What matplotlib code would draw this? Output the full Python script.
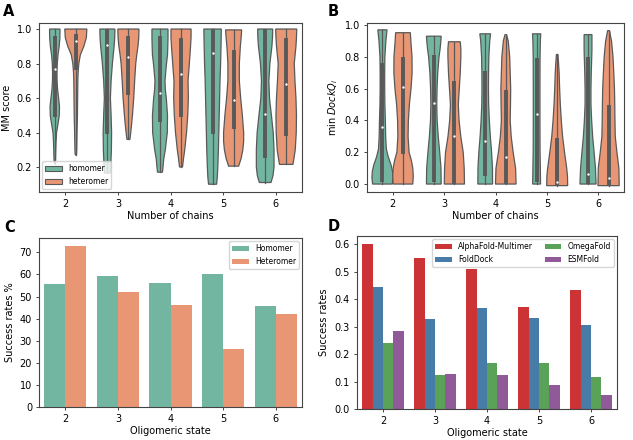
import colorsys
import numpy as np
import matplotlib
matplotlib.use("Agg")
import matplotlib.pyplot as plt
from matplotlib.patches import Patch

# ---------------- data ----------------
chains = [2, 3, 4, 5, 6]

# Panel A: MM score violins (y levels, relative density read as half-widths in px)
A_homo_y = [
    [1.0, 0.95, 0.9, 0.85, 0.8, 0.75, 0.7, 0.65, 0.6, 0.55, 0.5, 0.45, 0.4, 0.35, 0.3, 0.25, 0.22],
    [1.0, 0.95, 0.9, 0.8, 0.7, 0.6, 0.5, 0.4, 0.3, 0.2, 0.165],
    [1.0, 0.95, 0.9, 0.85, 0.8, 0.75, 0.7, 0.65, 0.6, 0.5, 0.4, 0.3, 0.25, 0.2, 0.17],
    [1.0, 0.9, 0.8, 0.7, 0.6, 0.5, 0.4, 0.3, 0.2, 0.14, 0.1],
    [1.0, 0.95, 0.9, 0.8, 0.7, 0.6, 0.5, 0.4, 0.3, 0.2, 0.15, 0.11],
]
A_homo_d = [
    [5.2, 5.1, 4.4, 3.2, 2.5, 2.2, 2.3, 2.8, 3.8, 4.7, 4.5, 3.2, 1.8, 1.3, 1.0, 0.8, 0.5],
    [7.5, 7.3, 6.7, 5.0, 3.7, 3.0, 3.7, 4.2, 4.0, 3.3, 3.0],
    [8.0, 8.0, 7.8, 7.5, 6.5, 5.7, 5.0, 5.3, 6.3, 7.5, 7.3, 5.3, 3.8, 3.0, 2.5],
    [8.7, 8.4, 8.0, 7.4, 7.0, 6.6, 6.2, 5.8, 5.2, 4.7, 4.0],
    [7.5, 7.3, 6.7, 4.7, 3.7, 4.3, 6.2, 8.0, 8.8, 8.8, 7.8, 5.8],
]
A_homo_q1 = [0.49, 0.39, 0.46, 0.39, 0.25]
A_homo_q3 = [0.96, 1.0, 0.96, 1.0, 1.0]
A_homo_med = [0.77, 0.905, 0.63, 0.86, 0.51]

A_hete_y = [
    [1.0, 0.95, 0.9, 0.85, 0.8, 0.75, 0.7, 0.6, 0.5, 0.4, 0.3, 0.27],
    [1.0, 0.95, 0.9, 0.85, 0.8, 0.7, 0.6, 0.5, 0.45, 0.4, 0.36],
    [1.0, 0.95, 0.9, 0.8, 0.7, 0.6, 0.5, 0.4, 0.3, 0.25, 0.2],
    [0.995, 0.95, 0.9, 0.8, 0.7, 0.6, 0.5, 0.4, 0.35, 0.3, 0.25, 0.205],
    [1.0, 0.95, 0.9, 0.8, 0.7, 0.6, 0.5, 0.4, 0.3, 0.25, 0.215],
]
A_hete_d = [
    [11, 10.5, 8, 4.5, 3, 2.3, 2, 1.8, 1.6, 1.2, 0.9, 0.6],
    [10.5, 10.3, 9.5, 8.3, 7.3, 6.2, 5.3, 4.0, 3.2, 2.3, 1.5],
    [10, 10, 9.5, 8.3, 7, 7.3, 6.7, 5.5, 3.7, 2.5, 1.5],
    [8, 7.5, 6.7, 5.7, 5.7, 7, 8.7, 10, 10, 9.2, 7.5, 5],
    [10.5, 10.2, 9.7, 8, 8.7, 9.7, 10.2, 10, 9, 7.7, 6.7],
]
A_hete_q1 = [0.76, 0.62, 0.49, 0.42, 0.38]
A_hete_q3 = [0.97, 0.96, 0.95, 0.88, 0.95]
A_hete_med = [0.93, 0.84, 0.74, 0.59, 0.68]

# Panel B: min DockQ_i violins
B_homo_y = [
    [0.97, 0.9, 0.8, 0.7, 0.6, 0.5, 0.4, 0.3, 0.22, 0.17, 0.12, 0.08, 0.04, 0.0],
    [0.93, 0.9, 0.85, 0.8, 0.7, 0.6, 0.5, 0.4, 0.3, 0.2, 0.1, 0.0],
    [0.945, 0.9, 0.8, 0.7, 0.6, 0.5, 0.4, 0.3, 0.2, 0.1, 0.0],
    [0.945, 0.9, 0.8, 0.6, 0.4, 0.2, 0.1, 0.0],
    [0.94, 0.85, 0.8, 0.7, 0.6, 0.5, 0.4, 0.3, 0.2, 0.1, 0.0],
]
B_homo_d = [
    [4.7, 3.5, 2.5, 2.3, 2.3, 2.5, 3, 3.3, 4, 6, 8.8, 10.3, 10.7, 10],
    [7.5, 7.2, 6.4, 5.3, 4, 3.3, 3, 3.4, 4.5, 6, 7.3, 7.5],
    [5.5, 4.6, 3.7, 3.4, 3.3, 3.5, 4.2, 5.2, 6.5, 7.4, 7.5],
    [4.2, 3.8, 3.5, 3.4, 3.4, 3.5, 3.8, 4.0],
    [4, 4, 3.8, 3.3, 3, 3, 3.7, 4.7, 6.2, 7.6, 8.2],
]
B_homo_q1 = [0.01, 0.01, 0.05, 0.01, 0.0]
B_homo_q3 = [0.76, 0.81, 0.71, 0.79, 0.80]
B_homo_med = [0.36, 0.51, 0.27, 0.44, 0.065]

B_hete_y = [
    [0.952, 0.9, 0.8, 0.7, 0.6, 0.5, 0.4, 0.3, 0.2, 0.15, 0.1, 0.05, 0.0],
    [0.895, 0.85, 0.8, 0.7, 0.6, 0.5, 0.4, 0.3, 0.2, 0.1, 0.0],
    [0.94, 0.9, 0.8, 0.7, 0.6, 0.5, 0.4, 0.3, 0.2, 0.1, 0.0],
    [0.815, 0.75, 0.7, 0.6, 0.5, 0.4, 0.3, 0.2, 0.1, 0.05, -0.01],
    [0.965, 0.93, 0.9, 0.8, 0.7, 0.6, 0.5, 0.4, 0.3, 0.2, 0.1, 0.0, -0.01],
]
B_hete_d = [
    [7.5, 8, 9.2, 9.3, 8.2, 6.5, 5.5, 5.2, 6.2, 8.5, 10, 10.5, 10],
    [6, 6.6, 6.6, 6, 5, 4, 4.8, 6.5, 9, 10, 10.3],
    [0.8, 2.5, 4, 4.5, 5, 4.8, 4.5, 5.5, 7.5, 10, 10.5],
    [0.8, 1.5, 2, 2.5, 3.2, 4.2, 5.5, 7.5, 9.7, 10.5, 10.7],
    [1, 2, 3, 4.5, 5.3, 6, 6.3, 6.5, 6.8, 8.5, 10.5, 10.8, 10.8],
]
B_hete_q1 = [0.19, 0.0, 0.0, -0.005, -0.005]
B_hete_q3 = [0.80, 0.65, 0.59, 0.29, 0.50]
B_hete_med = [0.61, 0.30, 0.17, 0.015, 0.04]

# Panel C: success rates (%)
C_homomer = [55.7, 59.5, 56.1, 60.2, 45.8]
C_heteromer = [73.0, 52.2, 46.1, 26.3, 42.3]

# Panel D: success rates per method
D_methods = ["AlphaFold-Multimer", "FoldDock", "OmegaFold", "ESMFold"]
D_afm = [0.601, 0.549, 0.510, 0.370, 0.435]
D_folddock = [0.445, 0.329, 0.368, 0.333, 0.307]
D_omegafold = [0.239, 0.125, 0.166, 0.166, 0.115]
D_esmfold = [0.283, 0.126, 0.123, 0.086, 0.050]


# ---------------- styling helpers ----------------
def desat(hexc, prop=0.75):
    r, g, b = matplotlib.colors.to_rgb(hexc)
    h, l, s = colorsys.rgb_to_hls(r, g, b)
    return colorsys.hls_to_rgb(h, l, s * prop)

set2 = [desat("#66c2a5"), desat("#fc8d62")]
set1 = [desat(c) for c in ["#e41a1c", "#377eb8", "#4daf4a", "#984ea3"]]
lum = min(colorsys.rgb_to_hls(*c)[1] for c in set2) * 0.6
GRAY = (lum, lum, lum)

TICK_FS = 7
LAB_FS = 7
LEG_FS = 5.5
SPINE = "#444444"
PX_PER_UNIT = 52.4  # violin density (px) -> x data units

plt.rcParams["font.family"] = ["DejaVu Sans"]
plt.rcParams["mathtext.fontset"] = "dejavusans"

W, H = 633, 440
fig = plt.figure(figsize=(W / 100, H / 100), dpi=100)


def add_ax(x0, y0, x1, y1):
    return fig.add_axes([x0 / W, 1 - y1 / H, (x1 - x0) / W, (y1 - y0) / H])


def style(ax):
    for s in ax.spines.values():
        s.set_color(SPINE)
        s.set_linewidth(0.8)
    ax.tick_params(labelsize=TICK_FS, length=2.5, width=0.7, color=SPINE, pad=2.5)
    ax.set_xticks(chains)
    ax.set_xlim(1.5, 6.5)


def violin(ax, c, ys, dens, q1, q3, med, color):
    ys = np.asarray(ys, float)
    hw = np.asarray(dens, float) / PX_PER_UNIT
    xs = np.concatenate([c - hw, (c + hw)[::-1]])
    yy = np.concatenate([ys, ys[::-1]])
    ax.fill(xs, yy, facecolor=color, edgecolor=GRAY, linewidth=0.9, zorder=1)
    ax.plot([c, c], [ys.min(), ys.max()], color=GRAY, lw=0.9, zorder=2)
    ax.plot([c, c], [q1, q3], color=GRAY, lw=2.8, solid_capstyle="butt", zorder=2)
    ax.scatter([c], [med], s=3, color="white", zorder=3, linewidths=0)


def violin_panel(ax, hy, hd, hq1, hq3, hmed, ey, ed, eq1, eq3, emed):
    for i, c in enumerate(chains):
        violin(ax, c - 0.2, hy[i], hd[i], hq1[i], hq3[i], hmed[i], set2[0])
        violin(ax, c + 0.2, ey[i], ed[i], eq1[i], eq3[i], emed[i], set2[1])


def panel_letter(x, y, t):
    fig.text(x / W, 1 - y / H, t, fontsize=10.5, fontweight="bold", va="top", ha="left")


# ---------------- Panel A ----------------
axA = add_ax(39, 23, 302, 192)
violin_panel(axA, A_homo_y, A_homo_d, A_homo_q1, A_homo_q3, A_homo_med,
             A_hete_y, A_hete_d, A_hete_q1, A_hete_q3, A_hete_med)
style(axA)
axA.set_ylim(0.055, 1.035)
axA.set_yticks([0.2, 0.4, 0.6, 0.8, 1.0])
axA.set_ylabel("MM score", fontsize=LAB_FS)
axA.set_xlabel("Number of chains", fontsize=LAB_FS, labelpad=1.5)
axA.yaxis.set_label_coords(-0.104, 0.5)
axA.legend(handles=[Patch(facecolor=set2[0], edgecolor=GRAY, linewidth=0.8, label="homomer"),
                    Patch(facecolor=set2[1], edgecolor=GRAY, linewidth=0.8, label="heteromer")],
           loc="lower left", fontsize=LEG_FS, borderaxespad=0.4, handlelength=2.2)
panel_letter(3, 4, "A")

# ---------------- Panel B ----------------
axB = add_ax(367, 23, 624, 192)
violin_panel(axB, B_homo_y, B_homo_d, B_homo_q1, B_homo_q3, B_homo_med,
             B_hete_y, B_hete_d, B_hete_q1, B_hete_q3, B_hete_med)
style(axB)
axB.set_ylim(-0.05, 1.013)
axB.set_yticks([0.0, 0.2, 0.4, 0.6, 0.8, 1.0])
axB.set_ylabel(r"min $\mathit{DockQ_i}$", fontsize=LAB_FS)
axB.set_xlabel("Number of chains", fontsize=LAB_FS, labelpad=1.5)
axB.yaxis.set_label_coords(-0.106, 0.5)
panel_letter(328, 4, "B")

# ---------------- Panel C ----------------
axC = add_ax(39, 238, 302, 407)
x = np.array(chains, float)
axC.bar(x - 0.2, C_homomer, width=0.4, color=set2[0], label="Homomer")
axC.bar(x + 0.2, C_heteromer, width=0.4, color=set2[1], label="Heteromer")
style(axC)
axC.set_ylim(0, 76.5)
axC.set_yticks(range(0, 80, 10))
axC.set_ylabel("Success rates %", fontsize=LAB_FS)
axC.set_xlabel("Oligomeric state", fontsize=LAB_FS, labelpad=1.5)
axC.yaxis.set_label_coords(-0.091, 0.5)
axC.legend(loc="upper right", fontsize=LEG_FS, borderaxespad=0.4, handlelength=2.2)
panel_letter(4, 220, "C")

# ---------------- Panel D ----------------
axD = add_ax(357, 236, 617, 409)
D_vals = [D_afm, D_folddock, D_omegafold, D_esmfold]
offsets = [-0.3, -0.1, 0.1, 0.3]
for vals, off, col, name in zip(D_vals, offsets, set1, D_methods):
    axD.bar(x + off, vals, width=0.2, color=col, label=name)
style(axD)
axD.set_ylim(0, 0.63)
axD.set_yticks([0.0, 0.1, 0.2, 0.3, 0.4, 0.5, 0.6])
axD.set_ylabel("Success rates", fontsize=LAB_FS)
axD.set_xlabel("Oligomeric state", fontsize=LAB_FS, labelpad=1.5)
axD.yaxis.set_label_coords(-0.109, 0.5)
axD.legend(loc="upper right", ncol=2, fontsize=LEG_FS, borderaxespad=0.4,
           handlelength=2.2, columnspacing=1.5)
panel_letter(328, 219, "D")

fig.savefig("out.png", dpi=100)
